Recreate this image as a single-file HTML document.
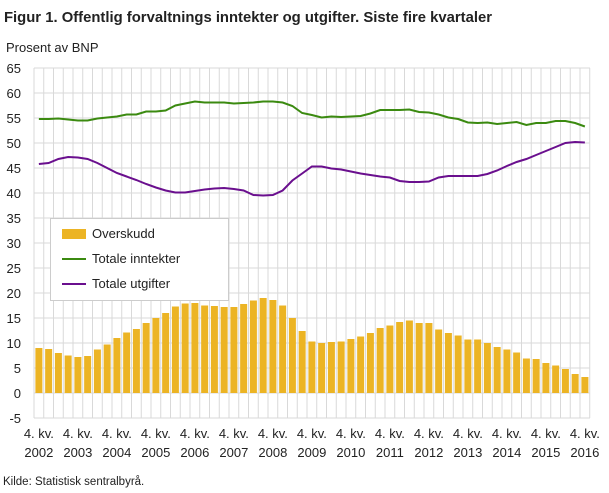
<!DOCTYPE html><html><head><meta charset="utf-8"><style>
body{margin:0;background:#fff;font-family:"Liberation Sans",sans-serif}
</style></head><body>
<svg id="s" width="609" height="488" xmlns="http://www.w3.org/2000/svg" font-family="Liberation Sans, sans-serif"></svg>
<script>
const bars=[9.0,8.8,8.0,7.5,7.2,7.4,8.7,9.7,11,12.1,12.8,14,15,16,17.3,17.9,18,17.5,17.4,17.2,17.2,17.8,18.5,19,18.6,17.5,15,12.4,10.3,10,10.2,10.3,10.8,11.3,12,13,13.5,14.2,14.5,14,14,12.7,12,11.5,10.7,10.7,10,9.2,8.7,8.1,6.9,6.8,6,5.5,4.8,3.8,3.2];
const g=[54.8,54.8,54.9,54.7,54.5,54.5,54.9,55.1,55.3,55.7,55.7,56.3,56.3,56.5,57.5,57.9,58.3,58.1,58.1,58.1,57.9,58,58.1,58.3,58.3,58.1,57.4,56.0,55.6,55.1,55.3,55.2,55.3,55.4,55.9,56.6,56.6,56.6,56.7,56.2,56.1,55.7,55.1,54.8,54.1,54.0,54.1,53.8,54.0,54.2,53.6,54.0,54.0,54.4,54.4,54.0,53.3];
const p=[45.8,46.0,46.8,47.2,47.1,46.8,46.0,45.0,44.0,43.3,42.6,41.8,41.1,40.5,40.1,40.1,40.4,40.7,40.9,41.0,40.8,40.5,39.6,39.5,39.6,40.5,42.5,43.9,45.3,45.3,44.9,44.7,44.3,43.9,43.6,43.3,43.1,42.4,42.2,42.2,42.3,43.1,43.4,43.4,43.4,43.4,43.8,44.5,45.4,46.2,46.8,47.6,48.4,49.2,50.0,50.2,50.1];
const X0=34,W=9.75,Y=v=>393-5*v;let h='';
h+='<text x="4" y="22" font-size="15" font-weight="bold" fill="#222" textLength="488" lengthAdjust="spacingAndGlyphs">Figur 1. Offentlig forvaltnings inntekter og utgifter. Siste fire kvartaler</text>';
h+='<text x="6" y="52" font-size="13" fill="#222">Prosent  av BNP</text>';
for(let i=0;i<=57;i++){const x=X0+i*W;h+=`<line x1="${x}" y1="68" x2="${x}" y2="418" stroke="#d9d9d9"/>`;}
for(let v=-5;v<=65;v+=5){h+=`<line x1="${X0}" y1="${Y(v)}" x2="590" y2="${Y(v)}" stroke="#d9d9d9"/>`;h+=`<text x="21" y="${Y(v)+5}" font-size="13" text-anchor="end" fill="#222">${v}</text>`;}
bars.forEach((b,i)=>{const x=X0+i*W+1.4;h+=`<rect x="${x}" y="${Y(b)}" width="7" height="${5*b}" fill="#ecb424"/>`;});
const line=(a,c)=>'<polyline fill="none" stroke="'+c+'" stroke-width="2" points="'+a.map((v,i)=>(X0+(i+.5)*W)+','+Y(v)).join(' ')+'"/>';
h+=line(g,'#3b8a10')+line(p,'#6a0f8e');
for(let k=0;k<15;k++){const x=X0+(4*k+.5)*W;h+=`<text x="${x}" y="438" font-size="13" text-anchor="middle" fill="#222">4. kv.</text><text x="${x}" y="457" font-size="13" text-anchor="middle" fill="#222">${2002+k}</text>`;}
h+='<rect x="50.5" y="218.5" width="178" height="82" fill="#fff" stroke="#ccc"/>';
h+='<rect x="62" y="229" width="24" height="10" fill="#ecb424"/><text x="92" y="238" font-size="13" fill="#222">Overskudd</text>';
h+='<line x1="62" y1="259" x2="86" y2="259" stroke="#3b8a10" stroke-width="2"/><text x="92" y="263" font-size="13" fill="#222">Totale inntekter</text>';
h+='<line x1="62" y1="284" x2="86" y2="284" stroke="#6a0f8e" stroke-width="2"/><text x="92" y="288" font-size="13" fill="#222">Totale utgifter</text>';
h+='<text x="3" y="485" font-size="11.5" fill="#222">Kilde: Statistisk sentralbyrå.</text>';
document.getElementById('s').innerHTML=h;
</script></body></html>
